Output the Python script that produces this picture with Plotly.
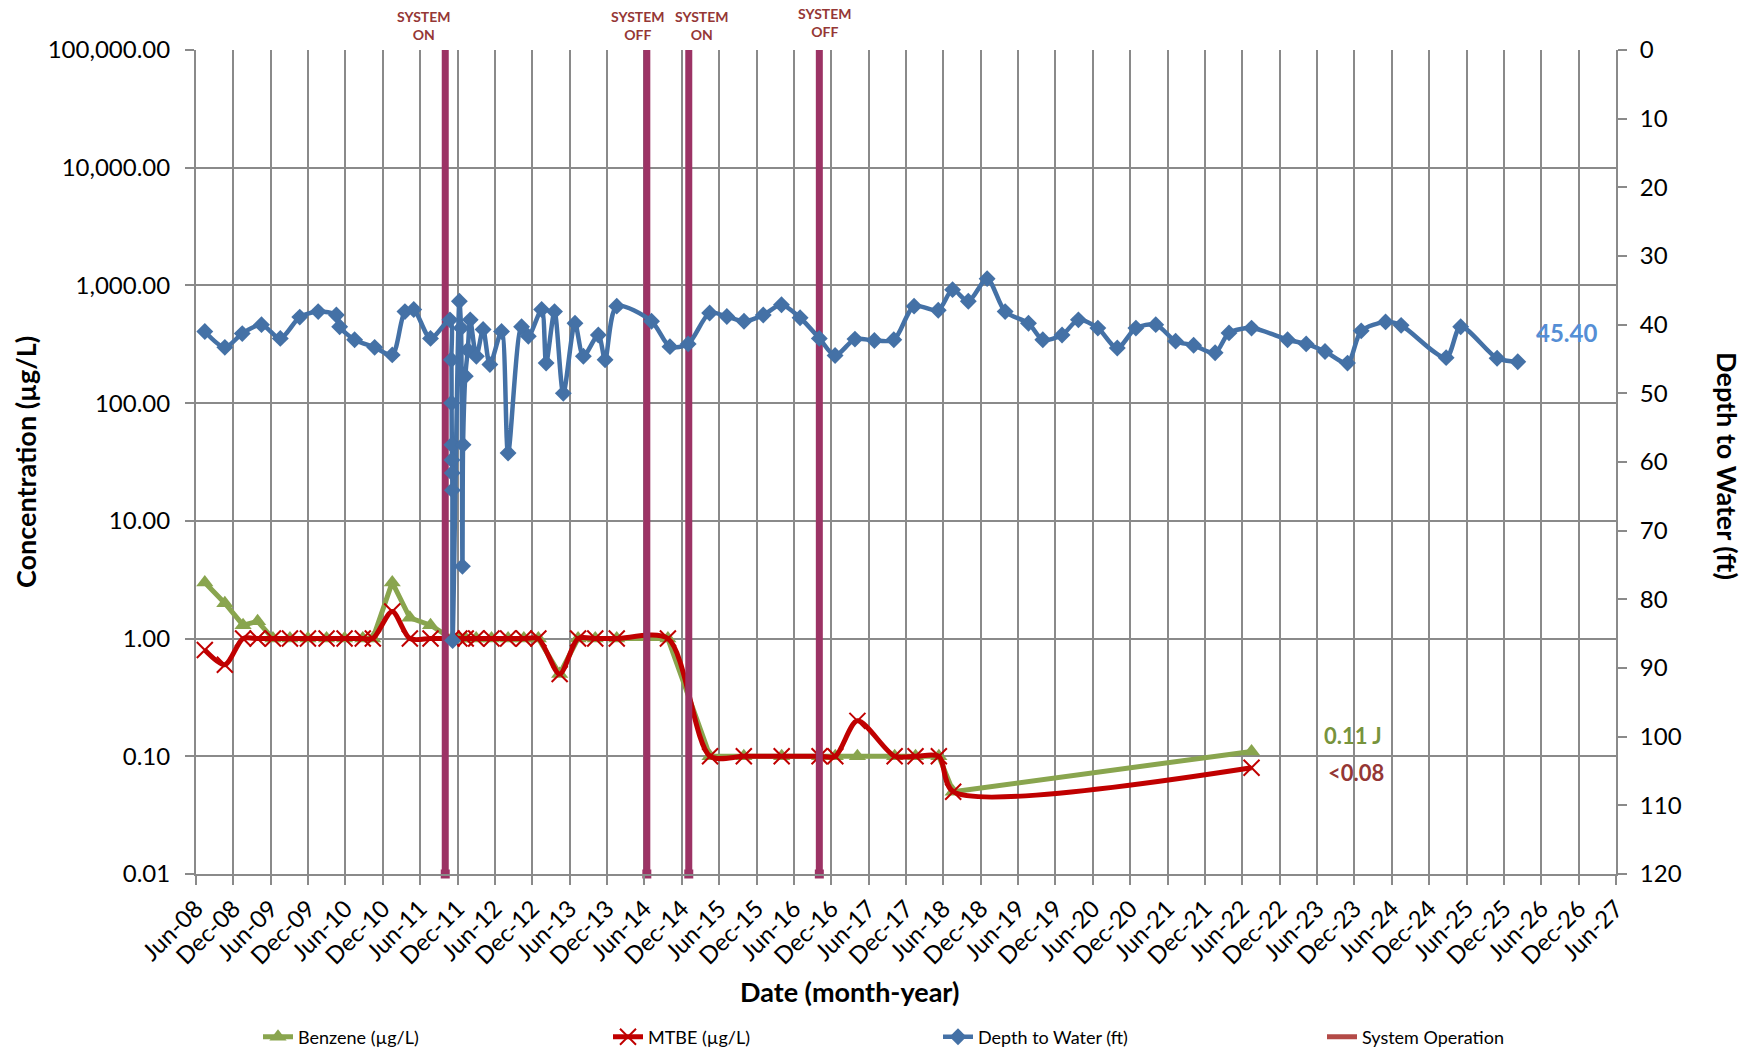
import math
import plotly.graph_objects as go

# ---------------- data ----------------
sample_dates = [
    "2008-07-14", "2008-10-20", "2009-01-17", "2009-03-29", "2009-06-12", "2009-09-03",
    "2009-11-30", "2010-03-01", "2010-05-28", "2010-08-25", "2010-10-13", "2011-01-16",
    "2011-04-12", "2011-07-22", "2011-11-02", "2011-12-10", "2012-01-10", "2012-03-01",
    "2012-05-15", "2012-08-04", "2012-10-20", "2012-12-30", "2013-04-13", "2013-07-12",
    "2013-10-04", "2014-01-17", "2014-09-24", "2015-04-18", "2015-09-30", "2016-04-02",
    "2016-10-04", "2016-12-20", "2017-04-07", "2017-10-06", "2018-01-16", "2018-05-10",
    "2018-07-19", "2022-07-16",
]
benzene = [
    3.0, 2.0, 1.3, 1.4, 1.0, 1.0,
    1.0, 1.0, 1.0, 1.0, 1.0, 3.0,
    1.5, 1.3, 1.0, 1.0, 1.0, 1.0,
    1.0, 1.0, 1.0, 1.0, 0.5, 1.0,
    1.0, 1.0, 1.0, 0.1, 0.1, 0.1,
    0.1, 0.1, 0.1, 0.1, 0.1, 0.1,
    0.05, 0.11,
]
mtbe = [
    0.8, 0.6, 1.0, 1.0, 1.0, 1.0,
    1.0, 1.0, 1.0, 1.0, 1.0, 1.7,
    1.0, 1.0, 1.0, 1.0, 1.0, 1.0,
    1.0, 1.0, 1.0, 1.0, 0.5, 1.0,
    1.0, 1.0, 1.0, 0.1, 0.1, 0.1,
    0.1, 0.1, 0.2, 0.1, 0.1, 0.1,
    0.05, 0.08,
]

depth_dates = [
    "2008-07-14", "2008-10-20", "2009-01-13", "2009-04-17", "2009-07-18", "2009-10-21",
    "2010-01-19", "2010-04-18", "2010-05-04", "2010-07-16", "2010-10-22", "2011-01-16",
    "2011-03-19", "2011-05-01", "2011-07-22", "2011-10-25", "2011-11-01", "2011-11-02",
    "2011-11-03", "2011-11-04", "2011-11-05", "2011-11-06", "2011-11-07", "2011-12-10",
    "2011-12-18", "2011-12-25", "2011-12-28", "2012-01-08", "2012-01-20", "2012-02-01",
    "2012-03-02", "2012-04-04", "2012-05-07", "2012-07-03", "2012-08-04", "2012-10-09",
    "2012-11-11", "2013-01-15", "2013-02-06", "2013-03-19", "2013-05-01", "2013-06-27",
    "2013-08-07", "2013-10-19", "2013-11-21", "2014-01-17", "2014-07-06", "2014-10-04",
    "2015-01-01", "2015-04-16", "2015-07-09", "2015-10-01", "2016-01-03", "2016-04-01",
    "2016-07-01", "2016-10-03", "2016-12-19", "2017-03-26", "2017-06-29", "2017-10-02",
    "2018-01-09", "2018-05-07", "2018-07-16", "2018-10-01", "2019-01-01", "2019-03-30",
    "2019-07-22", "2019-09-30", "2020-01-02", "2020-03-22", "2020-06-25", "2020-09-28",
    "2020-12-28", "2021-04-04", "2021-07-10", "2021-10-06", "2022-01-19", "2022-03-28",
    "2022-07-16", "2023-01-08", "2023-04-09", "2023-07-10", "2023-10-28", "2024-01-03",
    "2024-05-01", "2024-07-16", "2025-02-21", "2025-05-03", "2025-10-28", "2026-02-06",
]
depth_ft = [
    41.0, 43.3, 41.3, 40.0, 42.0, 38.9,
    38.1, 38.6, 40.3, 42.2, 43.3, 44.4,
    38.1, 37.8, 42.0, 39.3, 45.1, 51.4,
    57.5, 59.7, 61.6, 64.1, 86.0, 36.6,
    40.5, 75.2, 57.5, 47.5, 43.7, 39.3,
    44.6, 40.7, 45.8, 41.0, 58.7, 40.3,
    41.7, 37.8, 45.6, 38.1, 50.0, 39.8,
    44.6, 41.5, 45.1, 37.3, 39.5, 43.2,
    42.8, 38.3, 38.8, 39.5, 38.6, 37.1,
    39.0, 42.0, 44.5, 42.1, 42.3, 42.2,
    37.3, 37.9, 34.9, 36.6, 33.3, 38.1,
    39.8, 42.2, 41.5, 39.3, 40.5, 43.4,
    40.5, 40.0, 42.4, 43.0, 44.1, 41.2,
    40.5, 42.2, 42.8, 43.9, 45.6, 40.9,
    39.6, 40.1, 44.8, 40.3, 44.9, 45.4,
]

system_dates = ["2011-10-02", "2014-06-13", "2015-01-04", "2016-10-03"]
system_labels = ["SYSTEM<br>ON", "SYSTEM<br>OFF", "SYSTEM<br>ON", "SYSTEM<br>OFF"]

conc_tickvals = [0.01, 0.1, 1, 10, 100, 1000, 10000, 100000]
conc_ticktext = ["0.01", "0.10", "1.00", "10.00", "100.00", "1,000.00", "10,000.00", "100,000.00"]

# ---------------- styles ----------------
GRID = "#8a8a8a"
GREEN = "#89A54E"
RED = "#C00000"
BLUE = "#4471A6"
SYS = "#9C3365"
SYS_LEG = "#B34A47"
LABEL_RED = "#953735"
FONT = "Lato"

fig = go.Figure()

fig.add_trace(go.Scatter(
    x=sample_dates, y=benzene, name="Benzene (µg/L)", mode="lines+markers",
    line=dict(color=GREEN, width=5),
    marker=dict(symbol="triangle-up", size=15, color=GREEN),
    legend="legend",
))
fig.add_trace(go.Scatter(
    x=sample_dates, y=mtbe, name="MTBE (µg/L)", mode="lines+markers",
    line=dict(color=RED, width=5, shape="spline", smoothing=0.8),
    marker=dict(symbol="x-thin", size=16, color=RED, line=dict(color=RED, width=2)),
    legend="legend2",
))

# system operation vertical bars
ymin, ymax = conc_tickvals[0], conc_tickvals[-1]
sx, sy = [], []
for d in system_dates:
    sx += [d, d, None]
    sy += [ymin, ymax, None]
fig.add_trace(go.Scatter(
    x=sx, y=sy, mode="lines", line=dict(color=SYS, width=7),
    showlegend=False, hoverinfo="skip",
))
fig.add_trace(go.Scatter(
    x=system_dates, y=[ymin] * len(system_dates), mode="markers",
    marker=dict(symbol="square", size=9, color=SYS),
    showlegend=False, hoverinfo="skip", cliponaxis=False,
))

fig.add_trace(go.Scatter(
    x=depth_dates, y=depth_ft, name="Depth to Water (ft)", mode="lines+markers",
    yaxis="y2",
    line=dict(color=BLUE, width=4.5, shape="spline", smoothing=0.8),
    marker=dict(symbol="diamond", size=13, color=BLUE),
    legend="legend3",
))
fig.add_trace(go.Scatter(
    x=[None], y=[None], name="System Operation", mode="lines",
    line=dict(color=SYS_LEG, width=5), legend="legend4",
))

axis_common = dict(
    showline=True, linecolor=GRID, linewidth=2,
    ticks="outside", ticklen=9, tickwidth=2, tickcolor=GRID,
    tickfont=dict(family=FONT, size=24, color="black"),
)

fig.update_layout(
    width=1756, height=1051, autosize=False,
    margin=dict(l=196, r=140, t=50, b=177, pad=0),
    paper_bgcolor="white", plot_bgcolor="white",
    font=dict(family=FONT, color="black"),
    xaxis=dict(
        type="date", range=["2008-06-01", "2027-06-01"],
        tick0="2008-06-01", dtick="M6", tickformat="%b-%y", tickangle=-45,
        showgrid=True, gridcolor=GRID, gridwidth=2, zeroline=False,
        **axis_common,
    ),
    yaxis=dict(
        type="log", range=[-2, 5], tickvals=conc_tickvals, ticktext=conc_ticktext,
        showgrid=True, gridcolor=GRID, gridwidth=2, zeroline=False,
        ticklabelstandoff=10,
        **axis_common,
    ),
    yaxis2=dict(
        overlaying="y", side="right", range=[120, 0], dtick=10, tick0=0,
        showgrid=False, zeroline=False, ticklabelstandoff=8,
        **axis_common,
    ),
    showlegend=True,
)

leg_font = dict(family=FONT, size=18, color="black")
leg_y = 1 - 1037 / 1051
for name, px in [("legend", 258), ("legend2", 608), ("legend3", 938), ("legend4", 1322)]:
    fig.update_layout({name: dict(
        xref="container", yref="container", x=px / 1756, y=leg_y,
        xanchor="left", yanchor="middle", orientation="h",
        font=leg_font, bgcolor="rgba(0,0,0,0)", borderwidth=0,
    )})

title_font = dict(family=FONT, size=27, color="black")
annotations = [
    dict(text="<b>Concentration (µg/L)</b>", xref="paper", yref="paper",
         x=(25 - 196) / 1420, y=0.5, textangle=-90, showarrow=False,
         font=title_font, xanchor="center", yanchor="middle"),
    dict(text="<b>Depth to Water (ft)</b>", xref="paper", yref="paper",
         x=(1728 - 196) / 1420, y=0.495, textangle=90, showarrow=False,
         font=title_font, xanchor="center", yanchor="middle"),
    dict(text="<b>Date (month-year)</b>", xref="paper", yref="paper",
         x=(849 - 196) / 1420, y=(874 - 991) / 824, showarrow=False,
         font=title_font, xanchor="center", yanchor="middle"),
]
label_px = [424, 638, 702, 825]
label_py = [25, 25, 25, 22]
for t, px, py in zip(system_labels, label_px, label_py):
    annotations.append(dict(
        text="<b>" + t + "</b>", xref="paper", yref="paper",
        x=(px - 196) / 1420, y=(874 - py) / 824, showarrow=False,
        font=dict(family=FONT, size=14, color=LABEL_RED),
        xanchor="center", yanchor="middle",
    ))
annotations.append(dict(
    text="<b>%.2f</b>" % depth_ft[-1], x=depth_dates[-1], y=depth_ft[-1],
    xref="x", yref="y2", xshift=49, yshift=29, showarrow=False,
    font=dict(family=FONT, size=24, color="#558ED5"),
))
annotations.append(dict(
    text="<b>%.2f J</b>" % benzene[-1], x=sample_dates[-1], y=math.log10(benzene[-1]),
    xref="x", yref="y", xshift=101, yshift=16, showarrow=False,
    font=dict(family=FONT, size=22, color="#77933C"),
))
annotations.append(dict(
    text="<b>&lt;%.2f</b>" % mtbe[-1], x=sample_dates[-1], y=math.log10(mtbe[-1]),
    xref="x", yref="y", xshift=104, yshift=-5, showarrow=False,
    font=dict(family=FONT, size=22, color=LABEL_RED),
))
fig.update_layout(annotations=annotations)

fig.write_html(
    "out.html",
    config={"displayModeBar": False},
    post_script="document.body.style.margin='0';document.body.style.overflow='hidden';",
)
